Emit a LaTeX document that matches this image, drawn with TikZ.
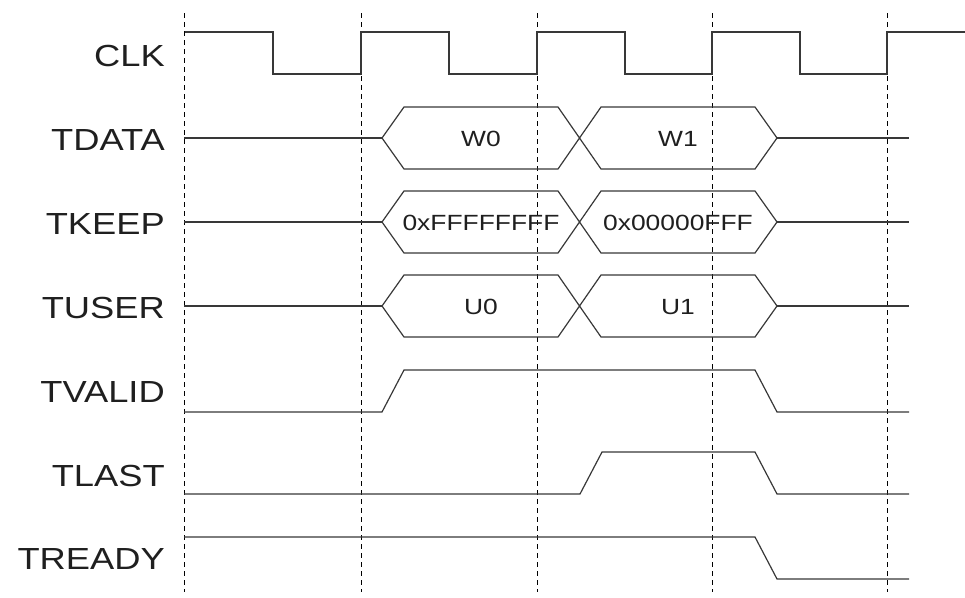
\documentclass[tikz,border=0pt]{standalone}
\usepackage{fontspec}
\setmainfont{Liberation Sans}
\begin{document}
\begin{tikzpicture}[x=1pt,y=-1pt,
  sig/.style={line width=1.2pt, draw=black!78, line join=miter},
  gridline/.style={draw=black, line width=0.9pt, dash pattern=on 5pt off 4pt},
  lab/.style={anchor=base east, font=\fontsize{30.5}{32}\selectfont, xscale=1.19, inner sep=0pt, text=black!88},
  bustext/.style={anchor=base, font=\fontsize{22}{24}\selectfont, xscale=1.2, inner sep=0pt, text=black!88}]
\useasboundingbox (0,0) rectangle (965,597);
% dashed clock-edge guides
\foreach \gx in {184,361,537,712,887}
  \draw[gridline] (\gx,13) -- (\gx,592);
% labels
\node[lab] (lclk)   at (165,66)  {CLK};
\node[lab] (ldata)  at (165,150) {TDATA};
\node[lab] (lkeep)  at (165,234) {TKEEP};
\node[lab] (luser)  at (165,318) {TUSER};
\node[lab] (lvalid) at (165,402) {TVALID};
\node[lab] (llast)  at (165,486) {TLAST};
\node[lab] (lready) at (165,569) {TREADY};
% clock
\draw[sig] (185,32) -- (273,32) -- (273,74) -- (361,74) -- (361,32) -- (449,32) -- (449,74)
  -- (537,74) -- (537,32) -- (625,32) -- (625,74) -- (712,74) -- (712,32) -- (800,32)
  -- (800,74) -- (887,74) -- (887,32) -- (965,32);
% buses
\foreach \yc in {138,222,306} {
  \draw[sig] (184,\yc) -- (382,\yc);
  \draw[sig] (777,\yc) -- (909,\yc);
  \draw[sig] (382,\yc) -- (404,\yc-31) -- (558,\yc-31) -- (601,\yc+31) -- (755,\yc+31)
    -- (777,\yc) -- (755,\yc-31) -- (601,\yc-31) -- (558,\yc+31) -- (404,\yc+31) -- cycle;
}
\node[bustext] (w0) at (481,146) {W0};
\node[bustext] (w1) at (678,146) {W1};
\node[bustext] (k0) at (481,230) {0xFFFFFFFF};
\node[bustext] (k1) at (678,230) {0x00000FFF};
\node[bustext] (u0) at (481,314) {U0};
\node[bustext] (u1) at (678,314) {U1};
% TVALID
\draw[sig] (184,412) -- (382,412) -- (404,370) -- (755,370) -- (777,412) -- (909,412);
% TLAST
\draw[sig] (184,494) -- (580,494) -- (602,452) -- (755,452) -- (777,494) -- (909,494);
% TREADY
\draw[sig] (184,537) -- (755,537) -- (777,579) -- (909,579);
\end{tikzpicture}
\end{document}
